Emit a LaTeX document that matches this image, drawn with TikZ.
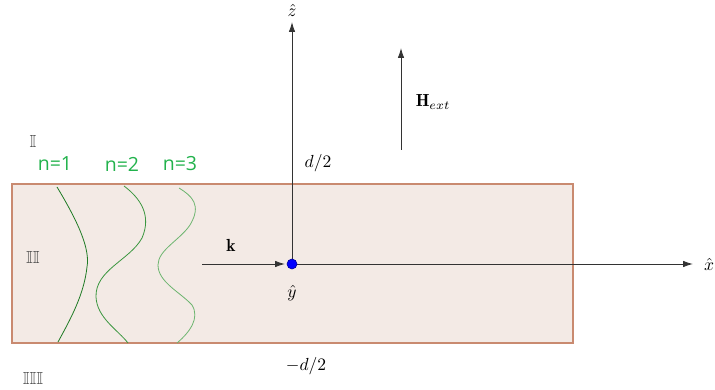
\documentclass[tikz,border=0pt]{standalone}
\usepackage{amsmath,amssymb}
\usepackage{fontspec}
\newfontfamily\labfont{Open Sans}
\usetikzlibrary{arrows.meta}
\definecolor{slabfill}{HTML}{F3EAE5}
\definecolor{slabdraw}{HTML}{C98A70}
\definecolor{ngreen}{HTML}{22B24C}
\definecolor{cone}{HTML}{1E7A24}
\definecolor{ctwo}{HTML}{3A963F}
\definecolor{cthree}{HTML}{6DB56F}
\definecolor{axisgray}{HTML}{333333}
\newcommand{\lblmath}[1]{\scalebox{1.75}{$#1$}}
\tikzset{
  axis/.style={draw=axisgray, line width=0.9pt, -{Latex[length=10pt,width=6.5pt]}},
  mlab/.style={font=\normalsize, inner sep=0pt},
  nlab/.style={font=\labfont\fontsize{19.5}{22}\selectfont, text=ngreen, inner sep=0pt},
  roman/.style={font=\normalsize, text=black!75, inner sep=0pt},
  mode/.style={line width=0.8pt}
}
\begin{document}
\begin{tikzpicture}[x=1pt,y=-1pt]
\useasboundingbox (0,0) rectangle (715,390);
% slab
\draw[fill=slabfill, draw=slabdraw, line width=1.2pt] (12,184) rectangle (573,343);
% mode curves
\draw[mode, cone] (57,187) .. controls (80,225) and (90,250) .. (87,267)
  .. controls (84,295) and (70,320) .. (58,342);
\draw[mode, ctwo] (124,186) .. controls (140,198) and (152,215) .. (142,238)
  .. controls (130,260) and (95,270) .. (96,297)
  .. controls (97,318) and (118,330) .. (128,343);
\draw[mode, cthree] (179,188) .. controls (192,196) and (202,205) .. (190,225)
  .. controls (180,240) and (158,250) .. (158,265)
  .. controls (158,282) and (180,292) .. (192,305)
  .. controls (200,318) and (190,332) .. (177,343);
% nodes
\coordinate (O) at (292,264);
\coordinate (zt) at (292,22);
\coordinate (xt) at (693,264);
\coordinate (ks) at (202,264);
\coordinate (ke) at (285,264);
\coordinate (hs) at (401,150);
\coordinate (he) at (401,48);
\draw[axis] (O) -- (zt);
\draw[axis] (O) -- (xt);
\draw[axis] (ks) -- (ke);
\draw[axis] (hs) -- (he);
\node[circle, fill=blue, draw=blue!60!black, line width=0.6pt, minimum size=10pt, inner sep=0pt] (dot) at (O) {};
% labels
\node[mlab] (zl) at (292,10) {\lblmath{\hat{z}}};
\node[mlab] (xl) at (709,264) {\lblmath{\hat{x}}};
\node[mlab] (yl) at (292,293) {\lblmath{\hat{y}}};
\node[mlab] (kl) at (231,245) {\lblmath{\mathbf{k}}};
\node[mlab] (dp) at (318,163) {\lblmath{d/2}};
\node[mlab] (dm) at (306,366) {\lblmath{-d/2}};
\node[mlab] (hl) at (433,102) {\lblmath{\mathbf{H}_{ext}}};
\node[roman] (r1) at (33,141) {\lblmath{\mathbb{I}}};
\node[roman] (r2) at (33,257) {\lblmath{\mathbb{II}}};
\node[roman] (r3) at (33,378) {\lblmath{\mathbb{III}}};
\node[nlab] (n1) at (55,164) {n=1};
\node[nlab] (n2) at (122,164) {n=2};
\node[nlab] (n3) at (180,164) {n=3};
\end{tikzpicture}
\end{document}
